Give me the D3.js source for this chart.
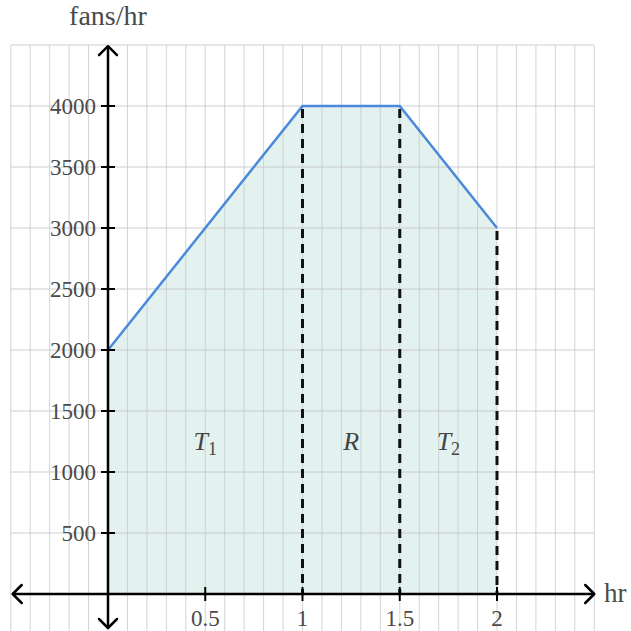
<!DOCTYPE html>
<html>
<head>
<meta charset="utf-8">
<script src="https://cdn.jsdelivr.net/npm/d3@7"></script>
<style>
  body { margin: 0; background: #fff; }
  text { font-family: "Liberation Serif", "DejaVu Serif", serif; }
</style>
</head>
<body>
<script>
// data
const hours = [0, 1, 1.5, 2];
const fansPerHour = [2000, 4000, 4000, 3000];
const dividers = [1, 1.5, 2];
const regionNames = ['T', 'R', 'T'];
const regionSubs = ['1', '', '2'];
const regionCenters = [0.5, 1.25, 1.75];
const xTicks = [0.5, 1, 1.5, 2];
const yTicks = [500, 1000, 1500, 2000, 2500, 3000, 3500, 4000];

const width = 631, height = 631;

const x = d3.scaleLinear().domain([0, 2]).range([108, 497]);
const y = d3.scaleLinear().domain([0, 4000]).range([594, 106]);

const svg = d3.select('body').append('svg')
  .attr('width', width)
  .attr('height', height);

// grid: vertical every 0.1 hr, horizontal every 500
const vGrid = d3.range(-5, 26).map((i) => i / 10);
const hGrid = d3.range(-1, 10).map((i) => i * 500);

const points = hours.map((h, i) => [h, fansPerHour[i]]);

// shaded area
svg.append('path')
  .datum(points)
  .attr('fill', '#e3f2ee')
  .attr('d', d3.area().x((d) => x(d[0])).y0(y(0)).y1((d) => y(d[1])));

svg.append('g').selectAll('line')
  .data(vGrid)
  .join('line')
  .attr('x1', (d) => x(d)).attr('x2', (d) => x(d))
  .attr('y1', y(4500)).attr('y2', height)
  .attr('stroke', '#c3cbce')
  .attr('stroke-opacity', 0.8)
  .attr('stroke-width', 1);

svg.append('g').selectAll('line')
  .data(hGrid)
  .join('line')
  .attr('x1', x(-0.5)).attr('x2', x(2.5))
  .attr('y1', (d) => y(d)).attr('y2', (d) => y(d))
  .attr('stroke', '#c3c6c7')
  .attr('stroke-opacity', 0.85)
  .attr('stroke-width', 1);

// dashed dividers
svg.append('g').selectAll('line')
  .data(dividers)
  .join('line')
  .attr('x1', (d) => x(d)).attr('x2', (d) => x(d))
  .attr('y1', (d) => y(fansPerHour[hours.indexOf(d)]) + 3)
  .attr('y2', y(0))
  .attr('stroke', '#111')
  .attr('stroke-width', 3)
  .attr('stroke-dasharray', '9,6');

// the curve
svg.append('path')
  .datum(points)
  .attr('fill', 'none')
  .attr('stroke', '#4a89dc')
  .attr('stroke-width', 2.5)
  .attr('d', d3.line().x((d) => x(d[0])).y((d) => y(d[1])));

// axes with arrows
const arrow = (x1, y1, x2, y2) => {
  svg.append('line')
    .attr('x1', x1).attr('y1', y1).attr('x2', x2).attr('y2', y2)
    .attr('stroke', '#000').attr('stroke-width', 2.5);
};
const head = (px, py, dx, dy) => {
  const s = 9;
  svg.append('path')
    .attr('d', `M${px - dx * s + dy * s},${py - dy * s + dx * s}L${px},${py}L${px - dx * s - dy * s},${py - dy * s - dx * s}`)
    .attr('fill', 'none').attr('stroke', '#000').attr('stroke-width', 2.5)
    .attr('stroke-linecap', 'round').attr('stroke-linejoin', 'round');
};
arrow(x(-0.49), y(0), x(2.5), y(0));
head(x(-0.49), y(0), -1, 0);
head(x(2.5), y(0), 1, 0);
arrow(x(0), y(4490), x(0), 628);
head(x(0), y(4490), 0, -1);
head(x(0), 628, 0, 1);

// ticks
svg.append('g').selectAll('line')
  .data(yTicks)
  .join('line')
  .attr('x1', x(0) - 7).attr('x2', x(0) + 7)
  .attr('y1', (d) => y(d)).attr('y2', (d) => y(d))
  .attr('stroke', '#000').attr('stroke-width', 2);

svg.append('g').selectAll('line')
  .data(xTicks)
  .join('line')
  .attr('x1', (d) => x(d)).attr('x2', (d) => x(d))
  .attr('y1', y(0) - 7).attr('y2', y(0) + 7)
  .attr('stroke', '#000').attr('stroke-width', 2);

svg.append('g').selectAll('text')
  .data(yTicks)
  .join('text')
  .attr('x', x(0) - 12)
  .attr('y', (d) => y(d))
  .attr('dy', '0.34em')
  .attr('text-anchor', 'end')
  .attr('font-size', 23)
  .attr('fill', '#4a4a4a')
  .text((d) => d);

svg.append('g').selectAll('text')
  .data(xTicks)
  .join('text')
  .attr('x', (d) => x(d))
  .attr('y', 626)
  .attr('text-anchor', 'middle')
  .attr('font-size', 23)
  .attr('fill', '#4a4a4a')
  .text((d) => d);

// axis titles
svg.append('text')
  .attr('x', x(0)).attr('y', 25)
  .attr('text-anchor', 'middle')
  .attr('font-size', 28)
  .attr('fill', '#4a4a4a')
  .text('fans/hr');

svg.append('text')
  .attr('x', 604).attr('y', y(0) + 8)
  .attr('font-size', 27)
  .attr('fill', '#4a4a4a')
  .text('hr');

// region labels
const labels = svg.append('g').selectAll('text')
  .data(regionNames)
  .join('text')
  .attr('x', (d, i) => x(regionCenters[i]))
  .attr('y', y(1250) + 8)
  .attr('text-anchor', 'middle')
  .attr('font-size', 26)
  .attr('font-style', 'italic')
  .attr('fill', '#444');
labels.append('tspan').text((d) => d);
labels.append('tspan')
  .attr('font-size', 18)
  .attr('font-style', 'normal')
  .attr('dy', 5)
  .text((d, i) => regionSubs[i]);
</script>
</body>
</html>
